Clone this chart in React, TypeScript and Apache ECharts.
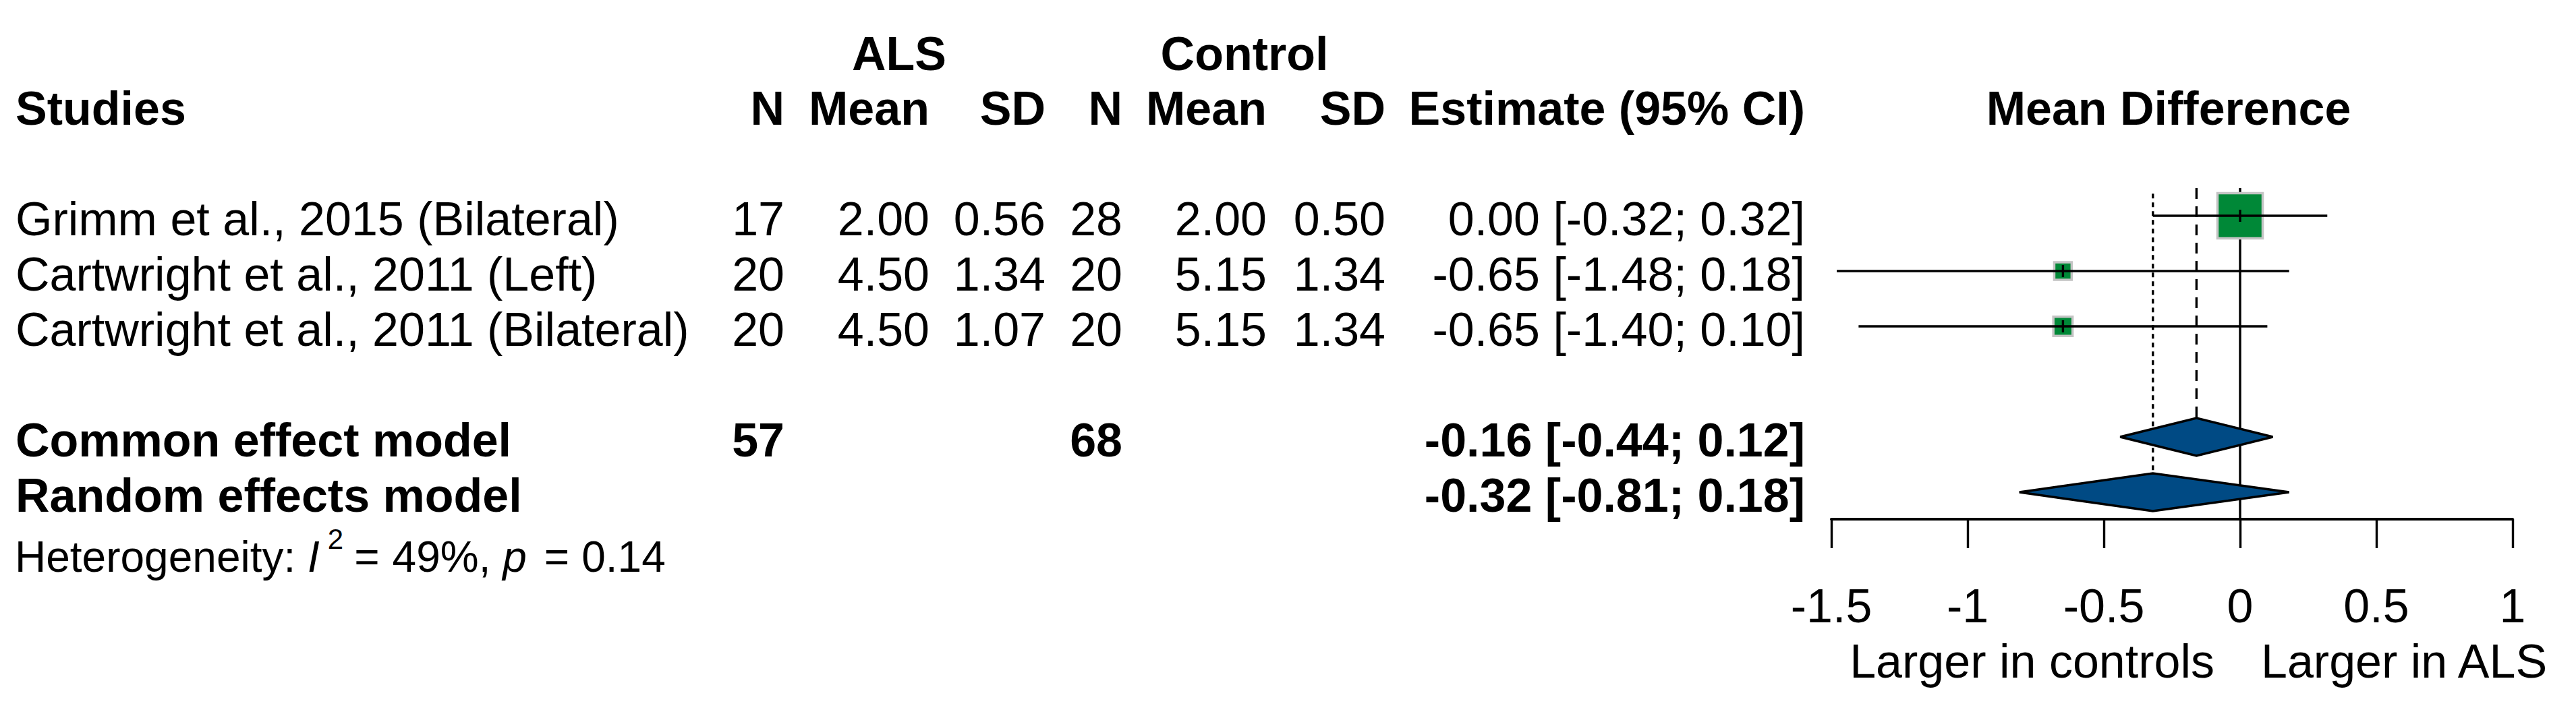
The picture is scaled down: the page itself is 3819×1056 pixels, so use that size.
import React, { useEffect, useRef } from 'react';
import * as echarts from 'echarts';

// ---------- data ----------
const studies = [
  'Grimm et al., 2015 (Bilateral)',
  'Cartwright et al., 2011 (Left)',
  'Cartwright et al., 2011 (Bilateral)',
];
const alsN = [17, 20, 20];
const alsMean = [2.0, 4.5, 4.5];
const alsSD = [0.56, 1.34, 1.07];
const ctrlN = [28, 20, 20];
const ctrlMean = [2.0, 5.15, 5.15];
const ctrlSD = [0.5, 1.34, 1.34];
const studyEst = [0.0, -0.65, -0.65];
const studyLower = [-0.32, -1.48, -1.4];
const studyUpper = [0.32, 0.18, 0.1];
const studyWeight = [75.2, 11.2, 13.6];
const studyRow = [0, 1, 2];

const modelNames = ['Common effect model', 'Random effects model'];
const modelAlsN: (number | null)[] = [57, null];
const modelCtrlN: (number | null)[] = [68, null];
const modelEst = [-0.16, -0.32];
const modelLower = [-0.44, -0.81];
const modelUpper = [0.12, 0.18];
const modelRow = [4, 5];

const nullEffect = 0;
const xMin = -1.5;
const xMax = 1;
const xInterval = 0.5;
const hetI2 = '49%';
const hetP = '0.14';
const labelLeft = 'Larger in controls';
const labelRight = 'Larger in ALS';

// ---------- layout ----------
const W = 3819;
const H = 1056;
const FONT = '"Liberation Sans", Arial, Helvetica, sans-serif';
const FS = 70;
const HET_FS = 64;
const SUP_FS = 42;
const ROW_H = 82;
const ROW0_MARK_Y = 320;
const BASE_OFF = 29; // text baseline below mark centre
const GRID_LEFT = 2715;
const GRID_RIGHT = 3725;
const GRID_TOP = 238;
const AXIS_Y = 770;
const Y_MIN = -1;
const Y_MAX = Y_MIN + (AXIS_Y - GRID_TOP) / ROW_H;
const BOX_MAX = 67;
const DIAMOND_HALF = 28;
const LW = 3.4;
const GREEN = '#008837';
const BLUE = '#004A84';

const COL = {
  study: 23,
  alsN: 1163,
  alsMean: 1378,
  alsSD: 1550,
  ctrlN: 1664,
  ctrlMean: 1878,
  ctrlSD: 2054,
  est: 2676,
};

const baselineOfRow = (r: number) => ROW0_MARK_Y + r * ROW_H + BASE_OFF;

function t(
  text: string,
  x: number,
  baseline: number,
  align: 'left' | 'right' | 'center',
  opts: { bold?: boolean; italic?: boolean; size?: number; lineHeight?: number } = {}
) {
  const size = opts.size ?? FS;
  const style: any = {
    text,
    fill: '#000',
    fontSize: size,
    fontFamily: FONT,
    fontWeight: opts.bold ? 'bold' : 'normal',
    fontStyle: opts.italic ? 'italic' : 'normal',
    align,
    verticalAlign: 'middle',
    textAlign: align,
    textVerticalAlign: 'middle',
  };
  if (opts.lineHeight) style.lineHeight = opts.lineHeight;
  return {
    type: 'text',
    x,
    y: baseline - 0.3465 * size,
    silent: true,
    style,
  };
}

let measureCtx: CanvasRenderingContext2D | null = null;
function tw(text: string, size: number, italic = false) {
  if (!measureCtx) measureCtx = document.createElement('canvas').getContext('2d');
  if (!measureCtx) return text.length * size * 0.55;
  measureCtx.font = `${italic ? 'italic' : 'normal'} normal ${size}px ${FONT}`;
  return measureCtx.measureText(text).width;
}

const fmt = (v: number) => v.toFixed(2);
const ci = (e: number, l: number, u: number) => `${fmt(e)} [${fmt(l)}; ${fmt(u)}]`;

function buildGraphics() {
  const els: any[] = [];
  // group headers
  els.push(t('ALS', 1333, 104, 'center', { bold: true }));
  els.push(t('Control', 1845, 104, 'center', { bold: true }));
  // column headers
  const hb = 185;
  els.push(t('Studies', COL.study, hb, 'left', { bold: true }));
  els.push(t('N', COL.alsN, hb, 'right', { bold: true }));
  els.push(t('Mean', COL.alsMean, hb, 'right', { bold: true }));
  els.push(t('SD', COL.alsSD, hb, 'right', { bold: true }));
  els.push(t('N', COL.ctrlN, hb, 'right', { bold: true }));
  els.push(t('Mean', COL.ctrlMean, hb, 'right', { bold: true }));
  els.push(t('SD', COL.ctrlSD, hb, 'right', { bold: true }));
  els.push(t('Estimate (95% CI)', COL.est, hb, 'right', { bold: true }));
  els.push(t('Mean Difference', (GRID_LEFT + GRID_RIGHT) / 2 - 5, hb, 'center', { bold: true }));

  // study rows
  studies.forEach((s, i) => {
    const b = baselineOfRow(studyRow[i]);
    els.push(t(s, COL.study, b, 'left'));
    els.push(t(String(alsN[i]), COL.alsN, b, 'right'));
    els.push(t(fmt(alsMean[i]), COL.alsMean, b, 'right'));
    els.push(t(fmt(alsSD[i]), COL.alsSD, b, 'right'));
    els.push(t(String(ctrlN[i]), COL.ctrlN, b, 'right'));
    els.push(t(fmt(ctrlMean[i]), COL.ctrlMean, b, 'right'));
    els.push(t(fmt(ctrlSD[i]), COL.ctrlSD, b, 'right'));
    els.push(t(ci(studyEst[i], studyLower[i], studyUpper[i]), COL.est, b, 'right'));
  });

  // model rows
  modelNames.forEach((m, i) => {
    const b = baselineOfRow(modelRow[i]);
    els.push(t(m, COL.study, b, 'left', { bold: true }));
    if (modelAlsN[i] != null) els.push(t(String(modelAlsN[i]), COL.alsN, b, 'right', { bold: true }));
    if (modelCtrlN[i] != null) els.push(t(String(modelCtrlN[i]), COL.ctrlN, b, 'right', { bold: true }));
    els.push(t(ci(modelEst[i], modelLower[i], modelUpper[i]), COL.est, b, 'right', { bold: true }));
  });

  // heterogeneity
  const hb2 = 848;
  let x = 22;
  const p1 = 'Heterogeneity: ';
  els.push(t(p1, x, hb2, 'left', { size: HET_FS }));
  x += tw(p1, HET_FS);
  els.push(t('I', x, hb2, 'left', { size: HET_FS, italic: true }));
  x += tw('I', HET_FS, true) + 12;
  els.push(t('2', x, hb2 - 34, 'left', { size: SUP_FS }));
  x += tw('2', SUP_FS) + 16;
  els.push(t('=', x, hb2, 'left', { size: HET_FS }));
  x += tw('=', HET_FS) + 19;
  const p2 = `${hetI2}, `;
  els.push(t(p2, x, hb2, 'left', { size: HET_FS }));
  x += tw(p2, HET_FS);
  els.push(t('p', x, hb2, 'left', { size: HET_FS, italic: true }));
  x += tw('p', HET_FS, true) + 26;
  els.push(t('=', x, hb2, 'left', { size: HET_FS }));
  x += tw('=', HET_FS) + 18;
  els.push(t(hetP, x, hb2, 'left', { size: HET_FS }));

  // direction labels
  els.push(t(labelLeft, 3283, 1005, 'right'));
  els.push(t(labelRight, 3352, 1005, 'left'));
  return els;
}

export default function App() {
  const ref = useRef<HTMLDivElement>(null);
  useEffect(() => {
    document.body.style.margin = '0';
    document.body.style.overflow = 'hidden';
    if (!ref.current) return;
    const chart = echarts.init(ref.current, undefined, { renderer: 'svg', width: W, height: H });

    const refLineData = [
      [nullEffect, -0.5, Y_MAX, 0],
      [modelEst[0], -0.5, modelRow[0], 1],
      [modelEst[1], -0.4, modelRow[1], 2],
    ];
    const studyData = studyEst.map((e, i) => [e, studyLower[i], studyUpper[i], studyWeight[i], studyRow[i]]);
    const modelData = modelEst.map((e, i) => [e, modelLower[i], modelUpper[i], modelRow[i]]);
    const maxW = Math.max(...studyWeight);

    chart.setOption({
      animation: false,
      backgroundColor: '#fff',
      grid: { left: GRID_LEFT, width: GRID_RIGHT - GRID_LEFT, top: GRID_TOP, height: AXIS_Y - GRID_TOP },
      xAxis: {
        type: 'value',
        min: xMin,
        max: xMax,
        interval: xInterval,
        position: 'bottom',
        axisLine: { show: true, onZero: false, lineStyle: { color: '#000', width: 4 } },
        axisTick: { show: true, length: 43, lineStyle: { color: '#000', width: LW } },
        axisLabel: { margin: 94, fontSize: FS, color: '#000', fontFamily: FONT },
        splitLine: { show: false },
      },
      yAxis: { type: 'value', inverse: true, min: Y_MIN, max: Y_MAX, show: false },
      graphic: { elements: buildGraphics() },
      series: [
        {
          type: 'custom',
          silent: true,
          data: refLineData,
          encode: { x: 0, y: 1 },
          renderItem: (_p: any, api: any) => {
            const xv = api.value(0);
            const kind = api.value(3);
            const top = api.coord([xv, api.value(1)]);
            const bot = api.coord([xv, api.value(2)]);
            const y2 = kind === 0 ? bot[1] : bot[1] - DIAMOND_HALF;
            const style: any = { stroke: '#000', lineWidth: LW, fill: null };
            if (kind === 1) style.lineDash = [16, 11];
            if (kind === 2) style.lineDash = [7, 6];
            return { type: 'line', shape: { x1: top[0], y1: top[1], x2: top[0], y2 }, style };
          },
        },
        {
          type: 'custom',
          silent: true,
          data: studyData,
          encode: { x: [0, 1, 2], y: 4 },
          renderItem: (_p: any, api: any) => {
            const row = api.value(4);
            const pe = api.coord([api.value(0), row]);
            const pl = api.coord([api.value(1), row]);
            const ph = api.coord([api.value(2), row]);
            const s = BOX_MAX * Math.sqrt(api.value(3) / maxW);
            return {
              type: 'group',
              children: [
                {
                  type: 'rect',
                  shape: { x: pe[0] - s / 2, y: pe[1] - s / 2, width: s, height: s },
                  style: { fill: GREEN, stroke: '#c4c4c4', lineWidth: 3.5 },
                },
                {
                  type: 'line',
                  shape: { x1: pl[0], y1: pl[1], x2: ph[0], y2: ph[1] },
                  style: { stroke: '#000', lineWidth: LW },
                },
                {
                  type: 'line',
                  shape: { x1: pe[0], y1: pe[1] - 9, x2: pe[0], y2: pe[1] + 9 },
                  style: { stroke: '#000', lineWidth: LW },
                },
              ],
            };
          },
        },
        {
          type: 'custom',
          silent: true,
          data: modelData,
          encode: { x: [0, 1, 2], y: 3 },
          renderItem: (_p: any, api: any) => {
            const row = api.value(3);
            const pe = api.coord([api.value(0), row]);
            const pl = api.coord([api.value(1), row]);
            const ph = api.coord([api.value(2), row]);
            return {
              type: 'polygon',
              shape: {
                points: [
                  [pl[0], pl[1]],
                  [pe[0], pe[1] - DIAMOND_HALF],
                  [ph[0], ph[1]],
                  [pe[0], pe[1] + DIAMOND_HALF],
                ],
              },
              style: { fill: BLUE, stroke: '#000', lineWidth: 3.5 },
            };
          },
        },
      ],
    });
    return () => chart.dispose();
  }, []);
  return <div ref={ref} style={{ width: W, height: H, background: '#fff' }} />;
}
